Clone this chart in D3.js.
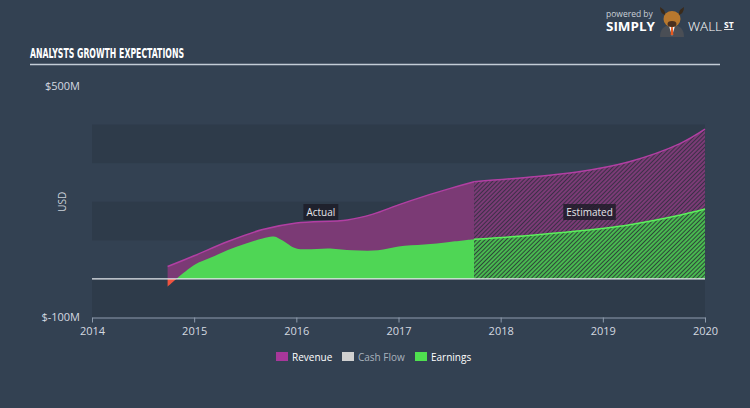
<!DOCTYPE html>
<html>
<head>
<meta charset="utf-8">
<script src="https://cdn.jsdelivr.net/npm/d3@7"></script>
<style>
  html, body { margin: 0; padding: 0; background: #334152; }
  svg { display: block; font-family: 'Open Sans', 'DejaVu Sans', sans-serif; }
</style>
</head>
<body>
<div id="chart"></div>
<script>
// actual figures (fraction of year, $M)
const revDates = [2014.74, 2015.0, 2015.33, 2015.67, 2016.0, 2016.5, 2016.75, 2017.0, 2017.25, 2017.5, 2017.74]
const actualRevenue = [32, 60, 97, 128, 145, 153, 168, 192, 214, 234, 252]
const earnDates = [2014.74, 2015.0, 2015.17, 2015.33, 2015.5, 2015.67, 2015.78, 2015.87, 2016.0, 2016.33, 2016.55, 2016.8, 2017.0, 2017.25, 2017.5, 2017.74]
const actualEarnings = [-20, 36, 56, 75, 91, 105, 110, 99, 79, 79, 74, 74, 84, 89, 96, 103]

// analyst estimates
const estDates = [2017.74, 2018.25, 2018.75, 2019.25, 2019.75, 2020.0]
const estRevenue = [252, 263, 277, 303, 350, 388]
const estEarnings = [103, 112, 124, 140, 165, 181]

const years = [2014, 2015, 2016, 2017, 2018, 2019, 2020]
const yLabels = [500, -100]
const legendItems = ['Revenue', 'Cash Flow', 'Earnings']

const width = 750
const height = 408

const x = d3.scaleLinear().domain([2014, 2020]).range([92, 705])
const y = d3.scaleLinear().domain([-100, 500]).range([317.5, 86])

const zip = (dates, vals) => dates.map((d, i) => ({ date: d, value: vals[i] }))

const svg = d3
  .select('#chart')
  .append('svg')
  .attr('width', width)
  .attr('height', height)

const defs = svg.append('defs')

const makeHatch = (id, bg, line) => {
  const p = defs
    .append('pattern')
    .attr('id', id)
    .attr('patternUnits', 'userSpaceOnUse')
    .attr('width', 3)
    .attr('height', 3)
    .attr('patternTransform', 'rotate(45)')
  p.append('rect').attr('width', 3).attr('height', 3).attr('fill', bg)
  p.append('line')
    .attr('x1', 1)
    .attr('x2', 1)
    .attr('y1', 0)
    .attr('y2', 3)
    .attr('stroke', line)
    .attr('stroke-width', 1.6)
}
makeHatch('hatchRev', '#3b3047', '#8b3d82')
makeHatch('hatchEarn', '#2e4639', '#4fd655')

defs.append('clipPath').attr('id', 'above')
  .append('rect').attr('x', 0).attr('y', 0).attr('width', width).attr('height', y(0))
defs.append('clipPath').attr('id', 'below')
  .append('rect').attr('x', 0).attr('y', y(0)).attr('width', width).attr('height', height)

svg.append('rect').attr('width', width).attr('height', height).attr('fill', '#334152')

// logo
const logo = svg.append('g')
logo.append('text').attr('x', 606).attr('y', 17).attr('fill', '#c9d0d8')
  .style('font-size', '8.5px').text('powered by')
logo.append('text').attr('x', 606).attr('y', 31).attr('fill', '#ffffff')
  .attr('textLength', 49).attr('lengthAdjust', 'spacingAndGlyphs')
  .style('font-size', '12.5px').style('font-weight', 'bold').text('SIMPLY')
const bull = logo.append('g').attr('transform', 'translate(672,21)')
bull.append('path').attr('d', 'M-12,-14 Q-12,-7 -6,-6 L-8,-11 Z M12,-14 Q12,-7 6,-6 L8,-11 Z').attr('fill', '#3a2a1a')
bull.append('path').attr('d', 'M-12,16 Q-12,4 0,4 Q12,4 12,16 Z').attr('fill', '#4a4e55')
bull.append('path').attr('d', 'M-3,5 L3,5 L0,15 Z').attr('fill', '#f2f2f2')
bull.append('path').attr('d', 'M-0.8,6 L0.8,6 L1.3,14 L-1.3,14 Z').attr('fill', '#e85a20')
bull.append('ellipse').attr('cx', 0).attr('cy', -2).attr('rx', 8.5).attr('ry', 8).attr('fill', '#b8782e')
bull.append('ellipse').attr('cx', 0).attr('cy', 3).attr('rx', 4.5).attr('ry', 3).attr('fill', '#4a3020')
logo.append('text').attr('x', 688).attr('y', 31).attr('fill', '#ffffff')
  .attr('textLength', 34).attr('lengthAdjust', 'spacingAndGlyphs')
  .style('font-size', '12.5px').style('font-weight', '300').text('WALL')
logo.append('text').attr('x', 724).attr('y', 28).attr('fill', '#ffffff')
  .style('font-size', '8.5px').style('font-weight', 'bold').style('text-decoration', 'underline').text('ST')

// title
svg.append('text')
  .attr('x', 30)
  .attr('y', 58)
  .attr('fill', '#ffffff')
  .attr('textLength', 154)
  .attr('lengthAdjust', 'spacingAndGlyphs')
  .style('font-family', "'DejaVu Sans Condensed', 'DejaVu Sans', sans-serif")
  .style('font-weight', 'bold')
  .style('font-size', '13.5px')
  .text('ANALYSTS GROWTH EXPECTATIONS')
svg.append('line')
  .attr('x1', 30).attr('x2', 720).attr('y1', 64.5).attr('y2', 64.5)
  .attr('stroke', '#c3ccd6').attr('stroke-width', 1.5)

// bands
const bandStarts = [-100, 100, 300]
svg.append('g')
  .selectAll('rect')
  .data(bandStarts)
  .join('rect')
  .attr('x', x(2014))
  .attr('width', x(2020) - x(2014))
  .attr('y', (d) => y(d + 100))
  .attr('height', (d) => y(d) - y(d + 100))
  .attr('fill', '#2e3b4a')

// y labels
svg.append('g')
  .selectAll('text')
  .data(yLabels)
  .join('text')
  .attr('x', 80)
  .attr('y', (d) => y(d))
  .attr('dy', '0.35em')
  .attr('text-anchor', 'end')
  .attr('fill', '#d3d9e0')
  .style('font-size', '11px')
  .text((d) => `$${d}M`)

svg.append('text')
  .attr('transform', `translate(66,${y(200)}) rotate(-90)`)
  .attr('text-anchor', 'middle')
  .attr('fill', '#c9d0d8')
  .style('font-size', '10px')
  .text('USD')

const curve = d3.curveCatmullRom.alpha(0.5)
const area = d3.area().curve(curve)
  .x((d) => x(d.date)).y0(y(0)).y1((d) => y(d.value))
const line = d3.line().curve(curve)
  .x((d) => x(d.date)).y((d) => y(d.value))

const revA = zip(revDates, actualRevenue)
const earnA = zip(earnDates, actualEarnings)
const revE = zip(estDates, estRevenue)
const earnE = zip(estDates, estEarnings)

const plot = svg.append('g')

// revenue
plot.append('path').datum(revA).attr('d', area).attr('fill', '#7b3a75').attr('clip-path', 'url(#above)')
plot.append('path').datum(revE).attr('d', area).attr('fill', 'url(#hatchRev)')
// earnings
plot.append('path').datum(earnA).attr('d', area).attr('fill', '#4fd655').attr('clip-path', 'url(#above)')
plot.append('path').datum(earnA).attr('d', area).attr('fill', '#f0533f').attr('clip-path', 'url(#below)')
plot.append('path').datum(earnE).attr('d', area).attr('fill', 'url(#hatchEarn)')

// lines
plot.append('path').datum(revA).attr('d', line)
  .attr('fill', 'none').attr('stroke', '#b23fa3').attr('stroke-width', 1.5)
plot.append('path').datum(revE).attr('d', line)
  .attr('fill', 'none').attr('stroke', '#b23fa3').attr('stroke-width', 1.5)
plot.append('path').datum(earnE).attr('d', line)
  .attr('fill', 'none').attr('stroke', '#5cf05c').attr('stroke-width', 1.5)

// zero line
svg.append('line')
  .attr('x1', x(2014)).attr('x2', x(2020)).attr('y1', y(0)).attr('y2', y(0))
  .attr('stroke', '#e6e9ee').attr('stroke-width', 1.2)

// period labels
const periodLabel = (cx, txt) => {
  const g = svg.append('g').attr('transform', `translate(${cx},${212})`)
  const t = g.append('text')
    .attr('text-anchor', 'middle')
    .attr('dy', '0.35em')
    .attr('fill', '#e6e6ea')
    .style('font-size', '10px')
    .text(txt)
  const bb = t.node().getBBox()
  g.insert('rect', 'text')
    .attr('x', bb.x - 3).attr('y', -8).attr('width', bb.width + 6).attr('height', 16)
    .attr('fill', '#1c1c26').attr('fill-opacity', 0.8)
}
periodLabel((x(revDates[0]) + x(estDates[0])) / 2, 'Actual')
periodLabel((x(estDates[0]) + x(2020)) / 2, 'Estimated')

// x axis
const xAxis = svg.append('g')
  .attr('transform', `translate(0,${317.5})`)
  .call(d3.axisBottom(x).tickValues(years).tickFormat(d3.format('d')).tickSize(5).tickSizeOuter(0))
xAxis.select('.domain').attr('stroke', '#8d9aab')
xAxis.selectAll('.tick line').attr('stroke', '#8d9aab')
xAxis.selectAll('.tick text').attr('fill', '#d3d9e0').style('font-size', '11px')
  .style('font-family', "'Open Sans', 'DejaVu Sans', sans-serif").attr('dy', '0.9em')

// legend
const legendColors = ['#a8379a', '#d0d0d0', '#4fe04f']
const legendX = [276, 342, 415]
const legend = svg.append('g')
  .selectAll('g')
  .data(legendItems)
  .join('g')
  .attr('transform', (d, i) => `translate(${legendX[i]},352)`)
legend.append('rect').attr('width', 12).attr('height', 9).attr('fill', (d, i) => legendColors[i])
legend.append('text')
  .attr('x', 16).attr('y', 8.5)
  .attr('fill', (d) => (d === 'Cash Flow' ? '#a9b2bd' : '#ffffff'))
  .style('font-size', '10px')
  .text((d) => d)
</script>
</body>
</html>
